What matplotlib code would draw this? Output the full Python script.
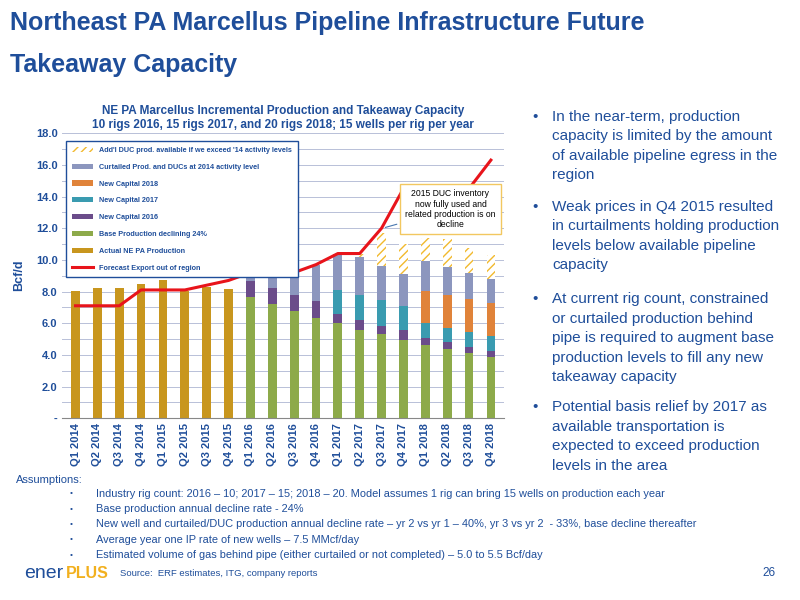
import matplotlib
matplotlib.use("Agg")
import matplotlib.pyplot as plt
import numpy as np

plt.rcParams['font.family'] = ['Liberation Sans', 'DejaVu Sans']

quarters = [f"Q{q} {y}" for y in (2014, 2015, 2016, 2017, 2018) for q in (1, 2, 3, 4)]
actual   = [8.05, 8.25, 8.25, 8.5, 8.75, 8.05, 8.3, 8.15] + [0]*12
base     = [0]*8 + [7.65, 7.2, 6.75, 6.35, 6.0, 5.6, 5.3, 4.95, 4.65, 4.4, 4.1, 3.85]
cap2016  = [0]*8 + [1.0, 1.0, 1.05, 1.05, 0.6, 0.6, 0.55, 0.6, 0.4, 0.4, 0.4, 0.4]
cap2017  = [0]*12 + [1.5, 1.55, 1.6, 1.55, 0.95, 0.9, 0.95, 0.95]
cap2018  = [0]*16 + [2.05, 2.05, 2.05, 2.05]
curtail  = [0]*8 + [0.55, 1.0, 1.4, 2.3, 2.3, 2.4, 2.15, 2.0, 1.85, 1.8, 1.65, 1.55]
duc      = [0]*13 + [0.25, 2.1, 1.9, 1.5, 1.75, 1.6, 1.5]
export   = [7.1, 7.1, 7.1, 8.1, 8.1, 8.1, 8.4, 8.7, 9.2, 9.2, 9.2, 9.7,
            10.4, 10.4, 12.0, 14.5, 14.5, 14.5, 14.5, 16.3]

navy = "#1F4E9A"
fig = plt.figure(figsize=(8, 6), dpi=100)
fig.text(0.012, 0.962, "Northeast PA Marcellus Pipeline Infrastructure Future", fontsize=18,
         fontweight="bold", color=navy, va="center")
fig.text(0.012, 0.892, "Takeaway Capacity", fontsize=18, fontweight="bold", color=navy, va="center")

ax = fig.add_axes([0.078, 0.303, 0.552, 0.475])
x = np.arange(len(quarters))
w = 0.4
bottom = np.zeros(len(x))
series = [
    (actual, "#C8961E", "Actual NE PA Production"),
    (base, "#8DAA4A", "Base Production declining 24%"),
    (cap2016, "#6B4C8A", "New Capital 2016"),
    (cap2017, "#3A9BB0", "New Capital 2017"),
    (cap2018, "#E0833A", "New Capital 2018"),
    (curtail, "#8C96BE", "Curtailed Prod. and DUCs at 2014 activity level"),
]
handles = {}
for vals, col, lab in series:
    v = np.array(vals)
    handles[lab] = ax.bar(x, v, w, bottom=bottom, color=col, label=lab, zorder=2)
    bottom += v
handles["duc"] = ax.bar(x, duc, w, bottom=bottom, color="white", edgecolor="#F2B92E",
                        hatch="////", lw=0, zorder=2,
                        label="Add'l DUC prod. available if we exceed '14 activity levels")
line, = ax.plot(x, export, color="#E8141B", lw=2.2, zorder=3, label="Forecast Export out of region")

ax.set_ylim(0, 18)
ax.set_xlim(-0.6, len(x) - 0.4)
ax.set_yticks(np.arange(0, 19, 2))
ax.set_yticklabels(["-"] + [f"{v:.1f}" for v in range(2, 19, 2)], fontsize=8, fontweight="bold", color=navy)
ax.set_yticks(np.arange(0, 19, 1), minor=True)
ax.tick_params(axis="y", which="both", length=0)
ax.grid(axis="y", which="both", color="#B8C0D8", lw=0.7, zorder=0)
ax.set_xticks(x)
ax.set_xticklabels(quarters, rotation=90, fontsize=8, fontweight="bold", color=navy)
ax.tick_params(axis="x", length=0)
for s in ("top", "right", "left"):
    ax.spines[s].set_visible(False)
ax.spines["bottom"].set_color("#888888")
ax.set_ylabel("Bcf/d", fontsize=9, fontweight="bold", color=navy, labelpad=8)
ax.set_title("NE PA Marcellus Incremental Production and Takeaway Capacity\n"
             "10 rigs 2016, 15 rigs 2017, and 20 rigs 2018; 15 wells per rig per year",
             fontsize=8.5, fontweight="bold", color=navy, pad=4)

order = [handles["duc"], handles[series[5][2]], handles[series[4][2]], handles[series[3][2]],
         handles[series[2][2]], handles[series[1][2]], handles[series[0][2]], line]
leg = ax.legend(handles=order, loc="upper left", bbox_to_anchor=(0.0, 0.985), fontsize=5.2,
                frameon=True, fancybox=False, edgecolor=navy, framealpha=1,
                handlelength=3, labelspacing=1.35, borderpad=0.8)
for t in leg.get_texts():
    t.set_color(navy); t.set_fontweight("bold")

ax.annotate("2015 DUC inventory\nnow fully used and\nrelated production is on\ndecline",
            xy=(14.05, 12.0), xytext=(17.15, 13.2), fontsize=6.2, ha="center", va="center",
            bbox=dict(boxstyle="square,pad=0.6", fc="white", ec="#F2C760", lw=1),
            arrowprops=dict(arrowstyle="-", color="#4A78B0", lw=0.8), zorder=5)

bullets = [
    (0.817, "In the near-term, production\ncapacity is limited by the amount\nof available pipeline egress in the\nregion"),
    (0.667, "Weak prices in Q4 2015 resulted\nin curtailments holding production\nlevels below available pipeline\ncapacity"),
    (0.513, "At current rig count, constrained\nor curtailed production behind\npipe is required to augment base\nproduction levels to fill any new\ntakeaway capacity"),
    (0.333, "Potential basis relief by 2017 as\navailable transportation is\nexpected to exceed production\nlevels in the area"),
]
for y, t in bullets:
    fig.text(0.666, y, "•", fontsize=11, color=navy, va="top")
    fig.text(0.69, y, t, fontsize=11, color=navy, va="top", linespacing=1.5)

fig.text(0.02, 0.2, "Assumptions:", fontsize=8, color=navy, va="center")
assum = ["Industry rig count: 2016 – 10; 2017 – 15; 2018 – 20. Model assumes 1 rig can bring 15 wells on production each year",
         "Base production annual decline rate - 24%",
         "New well and curtailed/DUC production annual decline rate – yr 2 vs yr 1 – 40%, yr 3 vs yr 2  - 33%, base decline thereafter",
         "Average year one IP rate of new wells – 7.5 MMcf/day",
         "Estimated volume of gas behind pipe (either curtailed or not completed) – 5.0 to 5.5 Bcf/day"]
for i, a in enumerate(assum):
    yy = 0.177 - i * 0.0255
    fig.text(0.087, yy, "•", fontsize=6, color=navy, va="center")
    fig.text(0.12, yy, a, fontsize=7.9, color=navy, va="center")

fig.text(0.03, 0.045, "ener", fontsize=14, color=navy, va="center")
fig.text(0.082, 0.045, "PLUS", fontsize=11.5, color="#F2B01E", fontweight="bold", va="center")
fig.text(0.15, 0.045, "Source:  ERF estimates, ITG, company reports", fontsize=6.8, color=navy, va="center")
fig.text(0.97, 0.045, "26", fontsize=8.5, color=navy, va="center", ha="right")

fig.savefig("out.png", dpi=100)
